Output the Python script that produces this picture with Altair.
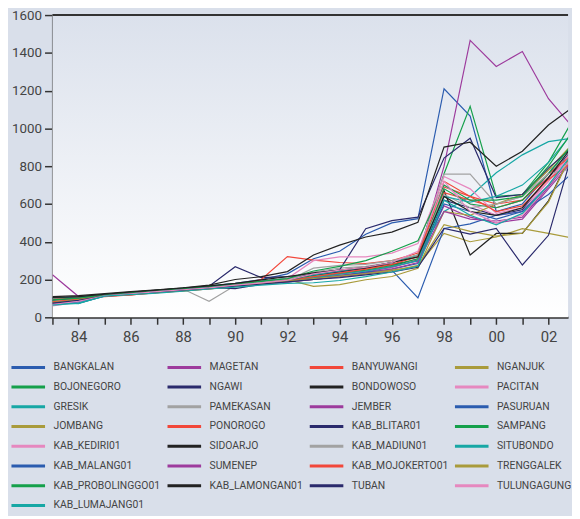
import altair as alt
import pandas as pd

YEARS = list(range(1983, 2004))

# values per kabupaten, 1983 .. 2003
BANGKALAN = [95, 100, 118, 130, 140, 152, 165, 180, 200, 230, 310, 350, 440, 500, 522, 1210, 1065, 560, 600, 760, 930]
BOJONEGORO = [90, 100, 118, 130, 142, 152, 163, 175, 188, 200, 220, 240, 260, 290, 330, 760, 1117, 640, 650, 820, 1060]
GRESIK = [100, 105, 120, 132, 143, 153, 165, 178, 190, 205, 225, 245, 265, 290, 330, 560, 640, 765, 860, 930, 950]
JOMBANG = [85, 95, 115, 122, 132, 140, 150, 165, 180, 199, 164, 173, 199, 216, 260, 560, 540, 600, 650, 780, 930]
KAB_KEDIRI01 = [70, 88, 114, 126, 137, 147, 158, 170, 185, 205, 300, 320, 320, 340, 390, 745, 680, 550, 580, 720, 880]
KAB_MALANG01 = [70, 85, 115, 125, 138, 148, 158, 170, 180, 190, 205, 220, 235, 255, 285, 600, 560, 520, 560, 700, 860]
KAB_PROBOLINGGO01 = [92, 102, 119, 131, 142, 152, 163, 176, 190, 205, 245, 270, 300, 350, 405, 700, 620, 620, 640, 800, 1000]
KAB_LUMAJANG01 = [65, 75, 112, 120, 128, 138, 150, 160, 170, 180, 183, 195, 215, 240, 270, 620, 540, 490, 550, 700, 880]
MAGETAN = [225, 110, 118, 128, 140, 150, 160, 172, 184, 196, 210, 230, 245, 270, 310, 800, 1466, 1328, 1407, 1157, 995]
NGAWI = [100, 105, 120, 130, 140, 150, 165, 268, 210, 215, 225, 240, 260, 280, 300, 620, 580, 540, 570, 740, 900]
PAMEKASAN = [95, 100, 118, 130, 140, 150, 85, 168, 185, 200, 240, 260, 270, 290, 320, 758, 758, 600, 640, 780, 860]
PONOROGO = [95, 102, 112, 120, 132, 143, 155, 168, 200, 321, 303, 290, 285, 300, 340, 660, 620, 580, 620, 760, 870]
SIDOARJO = [110, 115, 125, 136, 146, 156, 170, 200, 215, 242, 330, 382, 425, 451, 503, 901, 927, 800, 879, 1018, 1119]
SUMENEP = [72, 88, 113, 123, 133, 143, 152, 163, 174, 186, 200, 215, 232, 255, 290, 560, 520, 510, 530, 690, 860]
KAB_LAMONGAN01 = [105, 110, 122, 134, 144, 155, 166, 180, 198, 215, 235, 250, 265, 290, 320, 640, 560, 540, 580, 740, 920]
BANYUWANGI = [88, 98, 110, 118, 130, 140, 150, 162, 175, 188, 210, 230, 250, 270, 305, 690, 640, 600, 620, 740, 880]
BONDOWOSO = [100, 108, 120, 132, 143, 153, 163, 175, 190, 205, 225, 245, 260, 280, 300, 670, 330, 444, 444, 617, 900]
JEMBER = [78, 92, 115, 126, 137, 147, 158, 170, 182, 194, 208, 222, 240, 265, 300, 590, 530, 500, 520, 680, 840]
KAB_BLITAR01 = [90, 100, 118, 128, 138, 148, 158, 152, 175, 190, 232, 251, 469, 512, 530, 843, 948, 634, 650, 790, 910]
KAB_MADIUN01 = [85, 95, 116, 127, 138, 148, 158, 170, 182, 195, 260, 275, 280, 300, 330, 650, 580, 600, 640, 760, 790]
KAB_MOJOKERTO01 = [82, 96, 112, 119, 131, 142, 153, 166, 178, 190, 215, 235, 255, 280, 320, 720, 640, 560, 590, 730, 830]
TUBAN = [75, 90, 114, 124, 134, 144, 154, 165, 176, 188, 200, 210, 225, 240, 265, 470, 440, 470, 277, 434, 910]
NGANJUK = [80, 95, 116, 126, 136, 146, 157, 168, 178, 190, 200, 215, 230, 245, 275, 444, 400, 425, 469, 444, 417]
PACITAN = [60, 80, 113, 124, 134, 144, 154, 165, 176, 190, 205, 222, 240, 262, 310, 700, 600, 540, 560, 720, 900]
PASURUAN = [80, 75, 112, 122, 135, 145, 155, 168, 178, 188, 200, 215, 240, 250, 103, 470, 495, 540, 560, 650, 775]
SAMPANG = [85, 98, 117, 128, 140, 150, 160, 172, 185, 195, 215, 232, 250, 275, 310, 680, 600, 580, 620, 760, 930]
SITUBONDO = [75, 72, 114, 125, 135, 145, 156, 168, 180, 192, 210, 228, 245, 268, 300, 640, 610, 640, 700, 820, 990]
TRENGGALEK = [78, 92, 114, 124, 134, 144, 155, 166, 177, 190, 205, 218, 232, 250, 270, 490, 455, 430, 445, 610, 900]
TULUNGAGUNG = [68, 85, 114, 124, 136, 146, 156, 170, 182, 196, 230, 250, 265, 290, 350, 720, 560, 500, 540, 700, 860]

# legend order, row by row (reads top to bottom in 4 columns)
ORDER = [
    "BANGKALAN", "MAGETAN", "BANYUWANGI", "NGANJUK",
    "BOJONEGORO", "NGAWI", "BONDOWOSO", "PACITAN",
    "GRESIK", "PAMEKASAN", "JEMBER", "PASURUAN",
    "JOMBANG", "PONOROGO", "KAB_BLITAR01", "SAMPANG",
    "KAB_KEDIRI01", "SIDOARJO", "KAB_MADIUN01", "SITUBONDO",
    "KAB_MALANG01", "SUMENEP", "KAB_MOJOKERTO01", "TRENGGALEK",
    "KAB_PROBOLINGGO01", "KAB_LAMONGAN01", "TUBAN", "TULUNGAGUNG",
    "KAB_LUMAJANG01",
]

BLUE, GREEN, TEAL, OLIVE, PINK = "#2b5caf", "#15a04b", "#17a7a5", "#a99b3b", "#e688bf"
PURPLE, NAVY, GRAY, RED, BLACK = "#9d3b9d", "#2a2a6c", "#a2a2a2", "#f2473a", "#222222"

COLORS = [
    BLUE, PURPLE, RED, OLIVE,
    GREEN, NAVY, BLACK, PINK,
    TEAL, GRAY, PURPLE, BLUE,
    OLIVE, RED, NAVY, GREEN,
    PINK, BLACK, GRAY, TEAL,
    BLUE, PURPLE, RED, OLIVE,
    GREEN, BLACK, NAVY, PINK,
    TEAL,
]

X_DOMAIN = [1983, 2002.75]
Y_DOMAIN = [0, 1600]
Y_TICKS = [0, 200, 400, 600, 800, 1000, 1200, 1400, 1600]

series = {name: globals()[name] for name in ORDER}
rows = []
for name, vals in series.items():
    for y, v in zip(YEARS, vals):
        rows.append({"year": y, "value": v, "kab": name})
df = pd.DataFrame(rows)

FONT = "Roboto, Liberation Sans, sans-serif"

gradient = alt.LinearGradient(
    gradient="linear",
    stops=[alt.GradientStop(color="#dbe1ec", offset=0),
           alt.GradientStop(color="#ffffff", offset=1)],
    x1=0, x2=0, y1=0, y2=1,
)

xscale = alt.Scale(domain=X_DOMAIN, nice=False, zero=False)
yscale = alt.Scale(domain=Y_DOMAIN, nice=False)

xaxis = alt.Axis(values=YEARS[:-1], title=None, grid=False,
                 labelExpr="datum.value % 2 == 0 ? substring(toString(datum.value), 2, 4) : ''",
                 labelOverlap=False,
                 tickSize=7, tickWidth=1.5, tickColor="#333333",
                 domainColor="#333333", domainWidth=2,
                 labelFontSize=15, labelPadding=5, labelColor="#444444",
                 labelFont=FONT)
yaxis = alt.Axis(values=Y_TICKS, title=None, grid=False, format="d",
                 labelOverlap=False,
                 tickSize=8, tickWidth=1.5, tickColor="#333333",
                 domainColor="#333333", domainWidth=2,
                 labelFontSize=13.5, labelPadding=3, labelColor="#444444",
                 labelFont=FONT)

backdrop = alt.Chart(pd.DataFrame({"a": [0]})).mark_rect(color=gradient).encode(
    x=alt.datum(X_DOMAIN[0], scale=xscale, axis=xaxis),
    x2=alt.datum(X_DOMAIN[1]),
    y=alt.datum(Y_DOMAIN[0], scale=yscale, axis=yaxis),
    y2=alt.datum(Y_DOMAIN[1]),
)

lines = alt.Chart(df).mark_line(strokeWidth=1.2, clip=True).encode(
    x=alt.X("year:Q", scale=xscale, axis=xaxis),
    y=alt.Y("value:Q", scale=yscale, axis=yaxis),
    color=alt.Color("kab:N",
                    scale=alt.Scale(domain=ORDER, range=COLORS),
                    legend=alt.Legend(orient="none", legendX=-33, legendY=348,
                                      columns=4, direction="horizontal",
                                      title=None, symbolType="M-2.5,0H2.5",
                                      symbolSize=185, symbolStrokeWidth=3,
                                      labelFontSize=10.5, labelFont=FONT,
                                      labelColor="#444444", labelOffset=17,
                                      columnPadding=0, rowPadding=5,
                                      labelLimit=300)),
    detail="kab:N",
)

top_rule = alt.Chart(pd.DataFrame({"v": [1600]})).mark_rule(
    color="#333333", strokeWidth=2).encode(
    y=alt.Y("v:Q", scale=yscale, axis=yaxis))

chart = alt.layer(backdrop, lines, top_rule).properties(
    width=522, height=306,
    padding={"left": 45, "top": 4, "right": 4, "bottom": 198},
    autosize=alt.AutoSizeParams(type="none"),
    background="#d9dfea",
).configure_view(stroke=None)

chart.save("out.html", embed_options={"renderer": "svg", "actions": False})
